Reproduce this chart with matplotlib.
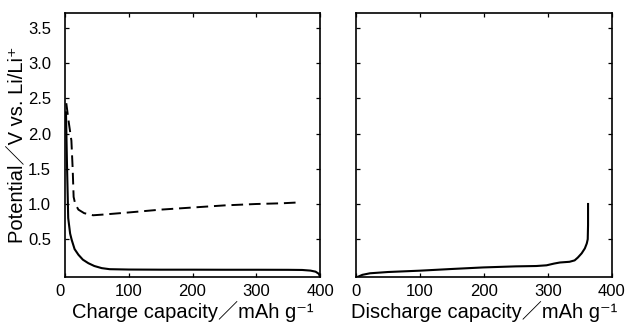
# Charge / discharge potential curves (two panels)

import matplotlib
matplotlib.use("Agg")
import matplotlib.pyplot as plt

plt.rcParams['font.family'] = ['Liberation Sans', 'DejaVu Sans', 'Noto Sans CJK JP']

# Charge curve, solid line (mAh/g, V)
charge_solid_cap = [1.5, 3, 5, 8, 10.5, 15, 21, 28, 36.6, 46, 57.6, 70, 100, 150, 200, 250,
                    300, 350, 372, 385, 393, 398, 400]
charge_solid_v = [2.3, 1.6, 0.8, 0.58, 0.49, 0.36, 0.28, 0.21, 0.16, 0.12, 0.09, 0.075, 0.07,
                  0.068, 0.068, 0.067, 0.067, 0.066, 0.064, 0.055, 0.04, 0.01, -0.03]

# Charge curve, dashed line
charge_dash_cap = [2, 6, 10, 12, 13.5, 16, 21, 30, 44, 60, 100, 150, 200, 250, 300, 340, 362]
charge_dash_v = [2.43, 2.15, 1.9, 1.5, 1.1, 1.0, 0.92, 0.87, 0.84, 0.85, 0.88, 0.92, 0.95,
                 0.98, 1.0, 1.01, 1.02]

# Discharge curve
discharge_cap = [0, 3.6, 10, 21.9, 50, 100, 150, 199, 250, 282, 298, 310, 319, 334, 342, 347,
                 353, 358, 361, 362.5, 363, 363]
discharge_v = [-0.04, -0.03, -0.005, 0.017, 0.035, 0.054, 0.078, 0.10, 0.115, 0.12, 0.13, 0.155,
               0.17, 0.18, 0.2, 0.24, 0.3, 0.37, 0.44, 0.5, 0.7, 1.0]

xticks = [0, 100, 200, 300, 400]
yticks = [0.5, 1.0, 1.5, 2.0, 2.5, 3.0, 3.5]

fig = plt.figure(figsize=(6.27, 3.23), dpi=100)
ax1 = fig.add_axes([0.1037, 0.1415, 0.4067, 0.8183])
ax2 = fig.add_axes([0.5678, 0.1415, 0.4078, 0.8183])

ax1.plot(charge_solid_cap, charge_solid_v, color="black", lw=1.5)
ax1.plot(charge_dash_cap, charge_dash_v, color="black", lw=1.4, linestyle=(0, (6, 3)))
ax2.plot(discharge_cap, discharge_v, color="black", lw=1.5)

for ax in (ax1, ax2):
    ax.set_xlim(0, 400)
    ax.set_ylim(-0.04, 3.71)
    ax.set_xticks(xticks)
    ax.set_yticks(yticks)
    ax.tick_params(direction="in", top=True, right=True, length=3, width=0.9,
                   labelsize=12)
    ax.tick_params(axis="x", pad=5)
    for sp in ax.spines.values():
        sp.set_linewidth(1.2)

ax1.tick_params(axis="y", pad=10)
ax1.set_yticklabels([f"{v:.1f}" for v in yticks])
ax2.set_yticklabels([])
ax1.get_xticklabels()[0].set_ha("right")

ax1.set_xlabel("Charge capacity／mAh g⁻¹", fontsize=14.5, labelpad=1)
ax2.set_xlabel("Discharge capacity／mAh g⁻¹", fontsize=14.5, labelpad=1)
ax1.set_ylabel("Potential／V vs. Li/Li⁺", fontsize=14.5, labelpad=1)

fig.savefig("out.png", dpi=100)
